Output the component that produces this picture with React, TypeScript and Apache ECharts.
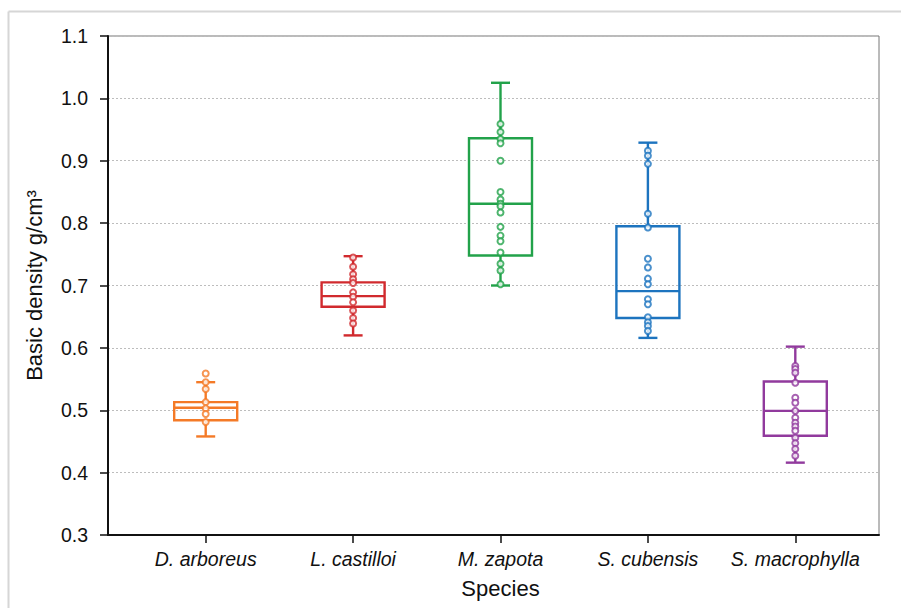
import React, { useEffect, useRef } from "react";
import * as echarts from "echarts";

const species = ["D. arboreus", "L. castilloi", "M. zapota", "S. cubensis", "S. macrophylla"];
const colors = ["#F47A27", "#D12A2E", "#22A24A", "#1D74BF", "#913A9D"];

const whiskerLow = [0.458, 0.62, 0.7, 0.616, 0.416];
const q1 = [0.484, 0.666, 0.748, 0.648, 0.459];
const median = [0.504, 0.683, 0.831, 0.691, 0.499];
const q3 = [0.513, 0.705, 0.936, 0.795, 0.546];
const whiskerHigh = [0.545, 0.747, 1.025, 0.929, 0.602];

const pointsDArboreus = [0.559, 0.545, 0.534, 0.513, 0.503, 0.494, 0.481];
const pointsLCastilloi = [0.745, 0.73, 0.718, 0.71, 0.704, 0.689, 0.682, 0.673, 0.66, 0.648, 0.639];
const pointsMZapota = [0.959, 0.946, 0.935, 0.928, 0.9, 0.85, 0.838, 0.831, 0.827, 0.817, 0.794, 0.78, 0.771, 0.753, 0.735, 0.724, 0.702];
const pointsSCubensis = [0.916, 0.908, 0.895, 0.815, 0.793, 0.743, 0.729, 0.711, 0.702, 0.678, 0.67, 0.649, 0.641, 0.635, 0.627];
const pointsSMacrophylla = [0.571, 0.566, 0.56, 0.544, 0.52, 0.512, 0.499, 0.488, 0.48, 0.474, 0.467, 0.456, 0.447, 0.438, 0.427];
const allPoints = [pointsDArboreus, pointsLCastilloi, pointsMZapota, pointsSCubensis, pointsSMacrophylla];

const yMin = 0.3;
const yMax = 1.1;
const yStep = 0.1;

const FONT = "'Liberation Sans', Arial, sans-serif";

export default function App() {
  const ref = useRef<HTMLDivElement>(null);

  useEffect(() => {
    if (!ref.current) return;
    const chart = echarts.init(ref.current, null, { renderer: "svg" });

    const boxData = species.map((_, i) => [i, whiskerLow[i], q1[i], median[i], q3[i], whiskerHigh[i]]);

    const scatterData: any[] = [];
    allPoints.forEach((pts, i) => {
      pts.forEach((v) => {
        scatterData.push({ value: [i, v], itemStyle: { color: colors[i], borderColor: colors[i] } });
      });
    });

    const option: any = {
      animation: false,
      backgroundColor: "#fff",
      graphic: [
        { type: "line", shape: { x1: 8.5, y1: 11.5, x2: 901, y2: 11.5 }, style: { stroke: "#d6d6d6", lineWidth: 2 }, silent: true },
        { type: "line", shape: { x1: 8.5, y1: 11.5, x2: 8.5, y2: 608 }, style: { stroke: "#d6d6d6", lineWidth: 2 }, silent: true },
      ],
      grid: [
        { left: 108, right: 22, top: 36, bottom: 73, show: true, borderColor: "#777", borderWidth: 1, backgroundColor: "transparent" },
        { left: 132, right: 32, top: 36, bottom: 73 },
      ],
      xAxis: [
        {
          type: "value",
          gridIndex: 0,
          min: 0,
          max: 1,
          axisLine: { show: true, onZero: false, lineStyle: { color: "#111", width: 2 } },
          axisTick: { show: false },
          axisLabel: { show: false },
          splitLine: { show: false },
        },
        {
          type: "category",
          gridIndex: 1,
          data: species,
          boundaryGap: true,
          axisLine: { show: false },
          axisTick: { show: true, interval: 0, alignWithLabel: true, length: 8, lineStyle: { color: "#111", width: 1.5 } },
          axisLabel: { interval: 0, hideOverlap: false, fontFamily: FONT, fontSize: 19.5, fontStyle: "italic", color: "#111", margin: 14 },
          name: "Species",
          nameLocation: "middle",
          nameGap: 42,
          nameTextStyle: { fontFamily: FONT, fontSize: 22, color: "#111" },
        },
      ],
      yAxis: [
        {
          type: "value",
          gridIndex: 0,
          min: yMin,
          max: yMax,
          interval: yStep,
          axisLine: { show: true, lineStyle: { color: "#111", width: 2 } },
          axisTick: { show: true, length: 8, lineStyle: { color: "#111", width: 1.5 } },
          axisLabel: {
            fontFamily: FONT,
            fontSize: 19.5,
            color: "#111",
            margin: 20,
            formatter: (v: number) => v.toFixed(1),
          },
          splitLine: { show: true, lineStyle: { color: "#bdbdbd", type: [2, 2], width: 1 } },
          name: "Basic density g/cm³",
          nameLocation: "middle",
          nameGap: 63,
          nameRotate: 90,
          nameTextStyle: { fontFamily: FONT, fontSize: 22, color: "#111" },
        },
        {
          type: "value",
          gridIndex: 1,
          min: yMin,
          max: yMax,
          interval: yStep,
          show: false,
          splitLine: { show: false },
        },
      ],
      series: [
        {
          type: "custom",
          xAxisIndex: 1,
          yAxisIndex: 1,
          data: boxData,
          z: 3,
          renderItem: (params: any, api: any) => {
            const i = api.value(0);
            const color = colors[params.dataIndex];
            const pLow = api.coord([i, api.value(1)]);
            const pQ1 = api.coord([i, api.value(2)]);
            const pMed = api.coord([i, api.value(3)]);
            const pQ3 = api.coord([i, api.value(4)]);
            const pHigh = api.coord([i, api.value(5)]);
            const x = pMed[0];
            const halfBox = 31.5;
            const halfCap = 9.5;
            const ls = { stroke: color, lineWidth: 2.4, fill: null };
            return {
              type: "group",
              children: [
                { type: "rect", shape: { x: x - halfBox, y: pQ3[1], width: halfBox * 2, height: pQ1[1] - pQ3[1] }, style: { stroke: color, lineWidth: 2.4, fill: "rgba(255,255,255,0)" } },
                { type: "line", shape: { x1: x - halfBox, y1: pMed[1], x2: x + halfBox, y2: pMed[1] }, style: ls },
                { type: "line", shape: { x1: x, y1: pQ3[1], x2: x, y2: pHigh[1] }, style: ls },
                { type: "line", shape: { x1: x, y1: pQ1[1], x2: x, y2: pLow[1] }, style: ls },
                { type: "line", shape: { x1: x - halfCap, y1: pHigh[1], x2: x + halfCap, y2: pHigh[1] }, style: ls },
                { type: "line", shape: { x1: x - halfCap, y1: pLow[1], x2: x + halfCap, y2: pLow[1] }, style: ls },
              ],
            };
          },
        },
        {
          type: "scatter",
          xAxisIndex: 1,
          yAxisIndex: 1,
          symbol: "emptyCircle",
          symbolSize: 6,
          z: 4,
          itemStyle: { borderWidth: 1.6 },
          data: scatterData,
        },
      ],
    };

    chart.setOption(option);
    return () => chart.dispose();
  }, []);

  return <div ref={ref} style={{ width: 901, height: 608, position: "absolute", left: 0, top: 0 }} />;
}
